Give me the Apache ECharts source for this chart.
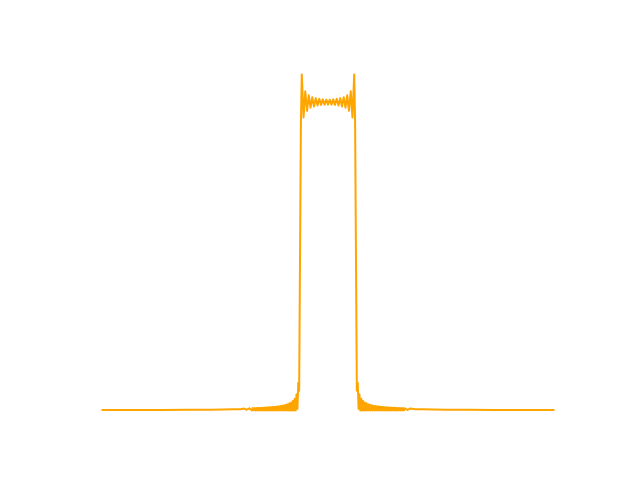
<!DOCTYPE html>
<html>
<head>
<meta charset="utf-8">
<script src="https://cdn.jsdelivr.net/npm/echarts@6/dist/echarts.min.js"></script>
<style>
html,body{margin:0;padding:0;background:#fff;}
#chart{width:640px;height:480px;}
</style>
</head>
<body>
<div id="chart"></div>
<script>
// [bin, magnitude] pairs
const leftFarTail = [[-258, 0.0011], [-220, 0.0013], [-190, 0.0016], [-160, 0.0019], [-135, 0.0023],
  [-120, 0.0028], [-108, 0.0034], [-100, 0.0040]];
const leftNearTail = [
  [-96, 0.0060], [-95, 0.0030], [-94, 0.0063], [-93, 0.0022], [-92, 0.0066], [-91, 0.0014], [-90, 0.0069], [-89, 0.0007],
  [-88, 0.0071], [-87, 0], [-86, 0.0073], [-85, 0], [-84, 0.0075], [-83, 0], [-82, 0.0077], [-81, 0],
  [-80, 0.0080], [-79, 0], [-78, 0.0083], [-77, 0], [-76, 0.0086], [-75, 0], [-74, 0.0089], [-73, 0],
  [-72, 0.0092], [-71, 0], [-70, 0.0096], [-69, 0], [-68, 0.0100], [-67, 0], [-66, 0.0104], [-65, 0],
  [-64, 0.0109], [-63, 0], [-62, 0.0114], [-61, 0], [-60, 0.0120], [-59, 0], [-58, 0.0127], [-57, 0],
  [-56, 0.0134], [-55, 0], [-54, 0.0142], [-53, 0], [-52, 0.0152], [-51, 0], [-50, 0.0165], [-49, 0],
  [-48, 0.0180], [-47, 0], [-46, 0.0200], [-45, 0], [-44, 0.0230], [-43, 0], [-42, 0.0260], [-41, 0],
  [-40, 0.0310], [-39, 0], [-38, 0.0380], [-37, 0], [-36, 0.0520], [-35, 0.005], [-34, 0.0900], [-33, 0.064]
];
const passband = [
  [-32, 0.5], [-31, 0.936], [-30, 1.09], [-28, 0.950], [-26, 1.035], [-24, 0.972], [-22, 1.022], [-20, 0.982],
  [-18, 1.016], [-16, 0.986], [-14, 1.013], [-12, 0.989], [-10, 1.011], [-8, 0.991], [-6, 1.009], [-4, 0.992],
  [-2, 1.008], [0, 0.992], [2, 1.008], [4, 0.992], [6, 1.009], [8, 0.991], [10, 1.011], [12, 0.989],
  [14, 1.013], [16, 0.986], [18, 1.016], [20, 0.982], [22, 1.022], [24, 0.972], [26, 1.035], [28, 0.950],
  [30, 1.09], [31, 0.936], [32, 0.5]
];
const rightNearTail = [
  [33, 0.064], [34, 0.0900], [35, 0.005], [36, 0.0520], [37, 0], [38, 0.0380], [39, 0], [40, 0.0310],
  [41, 0], [42, 0.0260], [43, 0], [44, 0.0230], [45, 0], [46, 0.0200], [47, 0], [48, 0.0180],
  [49, 0], [50, 0.0165], [51, 0], [52, 0.0152], [53, 0], [54, 0.0142], [55, 0], [56, 0.0134],
  [57, 0], [58, 0.0127], [59, 0], [60, 0.0120], [61, 0], [62, 0.0114], [63, 0], [64, 0.0109],
  [65, 0], [66, 0.0104], [67, 0], [68, 0.0100], [69, 0], [70, 0.0096], [71, 0], [72, 0.0092],
  [73, 0], [74, 0.0089], [75, 0], [76, 0.0086], [77, 0], [78, 0.0083], [79, 0], [80, 0.0080],
  [81, 0], [82, 0.0077], [83, 0], [84, 0.0075], [85, 0], [86, 0.0073], [87, 0], [88, 0.0071],
  [89, 0.0007], [90, 0.0069], [91, 0.0014], [92, 0.0066], [93, 0.0022], [94, 0.0063], [95, 0.0030], [96, 0.0060]
];
const rightFarTail = [[100, 0.0040], [108, 0.0034], [120, 0.0028], [135, 0.0023], [160, 0.0019],
  [190, 0.0016], [220, 0.0013], [258, 0.0011]];

const seriesData = leftFarTail.concat(leftNearTail, passband, rightNearTail, rightFarTail);

const chart = echarts.init(document.getElementById('chart'), null, {renderer: 'canvas'});
chart.setOption({
  animation: false,
  backgroundColor: '#ffffff',
  grid: {left: 102.5, right: 86.5, top: 74.4, bottom: 69.6, containLabel: false},
  xAxis: {type: 'value', min: -258, max: 258, show: false},
  yAxis: {type: 'value', min: 0, max: 1.09, show: false},
  series: [{
    type: 'line',
    data: seriesData,
    showSymbol: false,
    symbol: 'none',
    clip: false,
    lineStyle: {color: '#FFA500', width: 2, join: 'round', cap: 'square'}
  }]
});
</script>
</body>
</html>
